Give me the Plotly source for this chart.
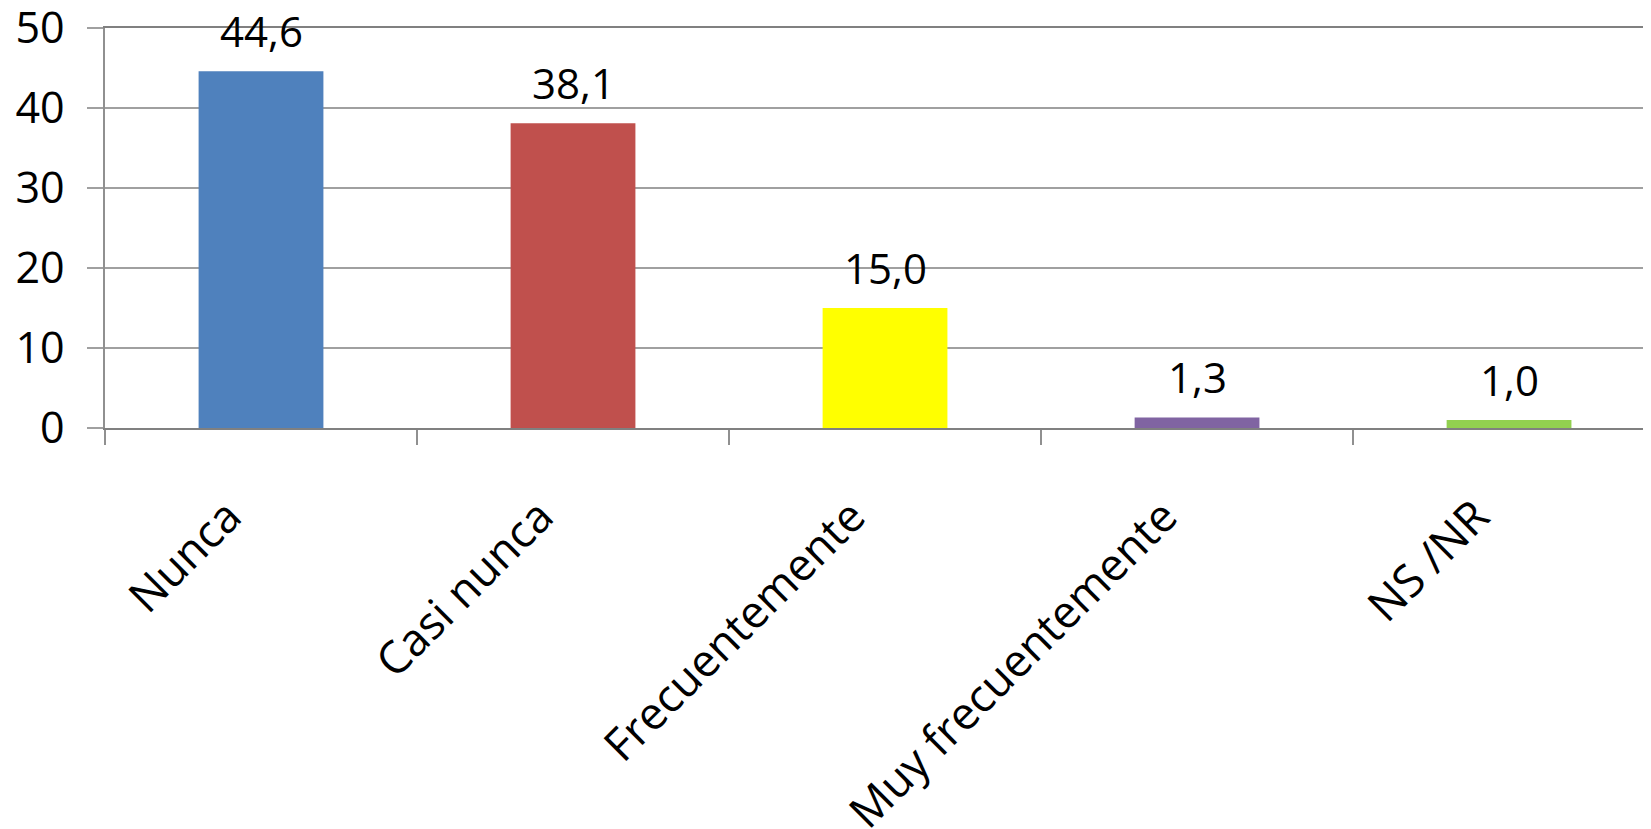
import plotly.graph_objects as go

categories = ["Nunca", "Casi nunca", "Frecuentemente", "Muy frecuentemente", "NS /NR"]
values = [44.6, 38.1, 15.0, 1.3, 1.0]
colors = ["#4F81BD", "#C0504D", "#FFFF00", "#8064A2", "#92D050"]
y_ticks = [0, 10, 20, 30, 40, 50]

FONT = "'Open Sans', Lato, sans-serif"

fig = go.Figure()
fig.add_trace(go.Bar(
    x=categories, y=values, marker=dict(color=colors, line=dict(width=0)),
    width=0.4, showlegend=False, hoverinfo="skip",
))

for c, v in zip(categories, values):
    fig.add_annotation(
        x=c, y=v, text=f"{v:.1f}".replace(".", ","), showarrow=False,
        yanchor="middle", yshift=41, font=dict(family=FONT, size=42, color="black"),
    )

# page has an 8px body margin, so the figure is offset by 8px
fig.update_layout(
    width=1643, height=821,
    margin=dict(l=97, r=0, t=20, b=401),
    paper_bgcolor="white", plot_bgcolor="white",
    font=dict(family=FONT, color="black"),
    bargap=0.6,
)
fig.update_xaxes(
    range=[-0.5, 4.455], type="category",
    showline=True, linecolor="#808080", linewidth=2, mirror=True,
    ticks="outside", tickson="boundaries", ticklen=15, tickcolor="#909090", tickwidth=1.5,
    tickangle=-45, tickfont=dict(family=FONT, size=45, color="black"),
    ticklabelstandoff=42, ticklabelshift=-33,
    showgrid=False, automargin=False,
)
fig.update_yaxes(
    range=[0, 50], tickvals=y_ticks,
    showline=True, linecolor="#909090", linewidth=1.5,
    showgrid=True, gridcolor="#A0A0A0", gridwidth=1.5,
    ticks="outside", ticklen=16, tickcolor="#A0A0A0", tickwidth=1.5,
    tickfont=dict(family=FONT, size=43, color="black"),
    ticklabelstandoff=14, ticklabeloverflow="allow",
    zeroline=False, automargin=False,
)

fig.write_html("out.html")
